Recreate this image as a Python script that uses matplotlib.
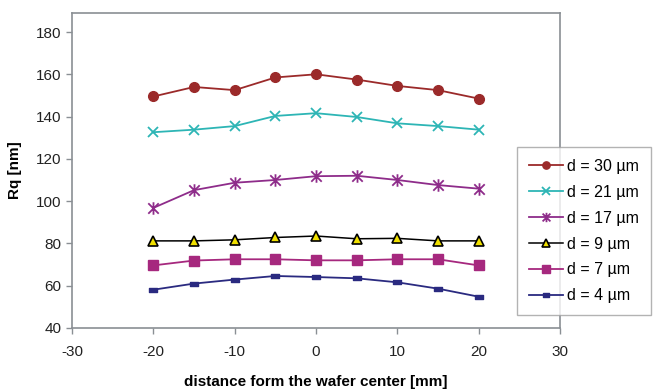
import matplotlib
matplotlib.use('Agg')
import matplotlib.pyplot as plt
from matplotlib.path import Path

plt.rcParams['font.family'] = ['Liberation Sans', 'DejaVu Sans']
plt.rcParams['axes.unicode_minus'] = False

# distance from wafer center [mm]
x = [-20, -15, -10, -5, 0, 5, 10, 15, 20]

d30 = [149.5, 154, 152.5, 158.5, 160, 157.5, 154.5, 152.5, 148.5]
d21 = [132.6, 133.8, 135.5, 140.3, 141.6, 139.8, 136.8, 135.5, 133.8]
d17 = [96.8, 105.2, 108.7, 110, 111.8, 112, 110, 107.6, 105.9]
d9 = [81.2, 81.2, 81.7, 82.8, 83.5, 82.2, 82.4, 81.2, 81.2]
d7 = [69.6, 71.9, 72.5, 72.5, 72, 72, 72.5, 72.5, 69.6]
d4 = [58.1, 61, 62.9, 64.6, 64.1, 63.5, 61.6, 58.6, 54.8]

labels = ['d = 30 µm', 'd = 21 µm', 'd = 17 µm', 'd = 9 µm', 'd = 7 µm', 'd = 4 µm']

# asterisk marker (x with vertical bar)
star = Path([(-1, -1), (1, 1), (-1, 1), (1, -1), (0, -1.2), (0, 1.2)],
            [Path.MOVETO, Path.LINETO, Path.MOVETO, Path.LINETO, Path.MOVETO, Path.LINETO])
bar = Path([(-1.4, -0.8), (1.4, -0.8), (1.4, 0.8), (-1.4, 0.8), (-1.4, -0.8)],
           [Path.MOVETO, Path.LINETO, Path.LINETO, Path.LINETO, Path.CLOSEPOLY])

fig = plt.figure(figsize=(6.56, 3.92), dpi=100)
ax = fig.add_axes([0.1098, 0.1633, 0.7439, 0.8036])

ax.plot(x, d30, color='#9B2A2A', lw=1.3, marker='o', ms=7, label=labels[0])
ax.plot(x, d21, color='#2DB5B5', lw=1.3, marker='x', ms=7, mew=1.3, label=labels[1])
ax.plot(x, d17, color='#8E2C8A', lw=1.3, marker=star, ms=9, mew=1.3, label=labels[2])
ax.plot(x, d9, color='black', lw=1.1, marker='^', ms=7, mfc='#F0E000', mec='black', mew=1.2, label=labels[3])
ax.plot(x, d7, color='#A6287E', lw=1.3, marker='s', ms=7, label=labels[4])
ax.plot(x, d4, color='#2A2A80', lw=1.3, marker=bar, ms=6, label=labels[5])

ax.set_xlim(-30, 30)
ax.set_ylim(40, 189)
ax.set_xticks([-30, -20, -10, 0, 10, 20, 30])
ax.set_yticks([40, 60, 80, 100, 120, 140, 160, 180])

for s in ax.spines.values():
    s.set_color('#8A8F94')
    s.set_linewidth(1.2)
ax.tick_params(colors='#8A8F94', labelcolor='#222222', labelsize=11, length=4, width=1)
ax.tick_params(axis='x', pad=8)

ax.set_xlabel('distance form the wafer center [mm]', fontsize=11, fontweight='bold', labelpad=12)
ax.set_ylabel('Rq [nm]', fontsize=11, fontweight='bold', labelpad=10)

leg = fig.legend(loc='upper left', bbox_to_anchor=(517 / 656, 1 - 147 / 392), fontsize=11.5,
                 frameon=True, fancybox=False, borderpad=0.75, labelspacing=0.68,
                 borderaxespad=0, handlelength=2.1, handletextpad=0.3, markerscale=0.75)
leg.get_frame().set_edgecolor('#A0A0A0')
leg.get_frame().set_linewidth(1.0)

fig.savefig('out.png', dpi=100)
